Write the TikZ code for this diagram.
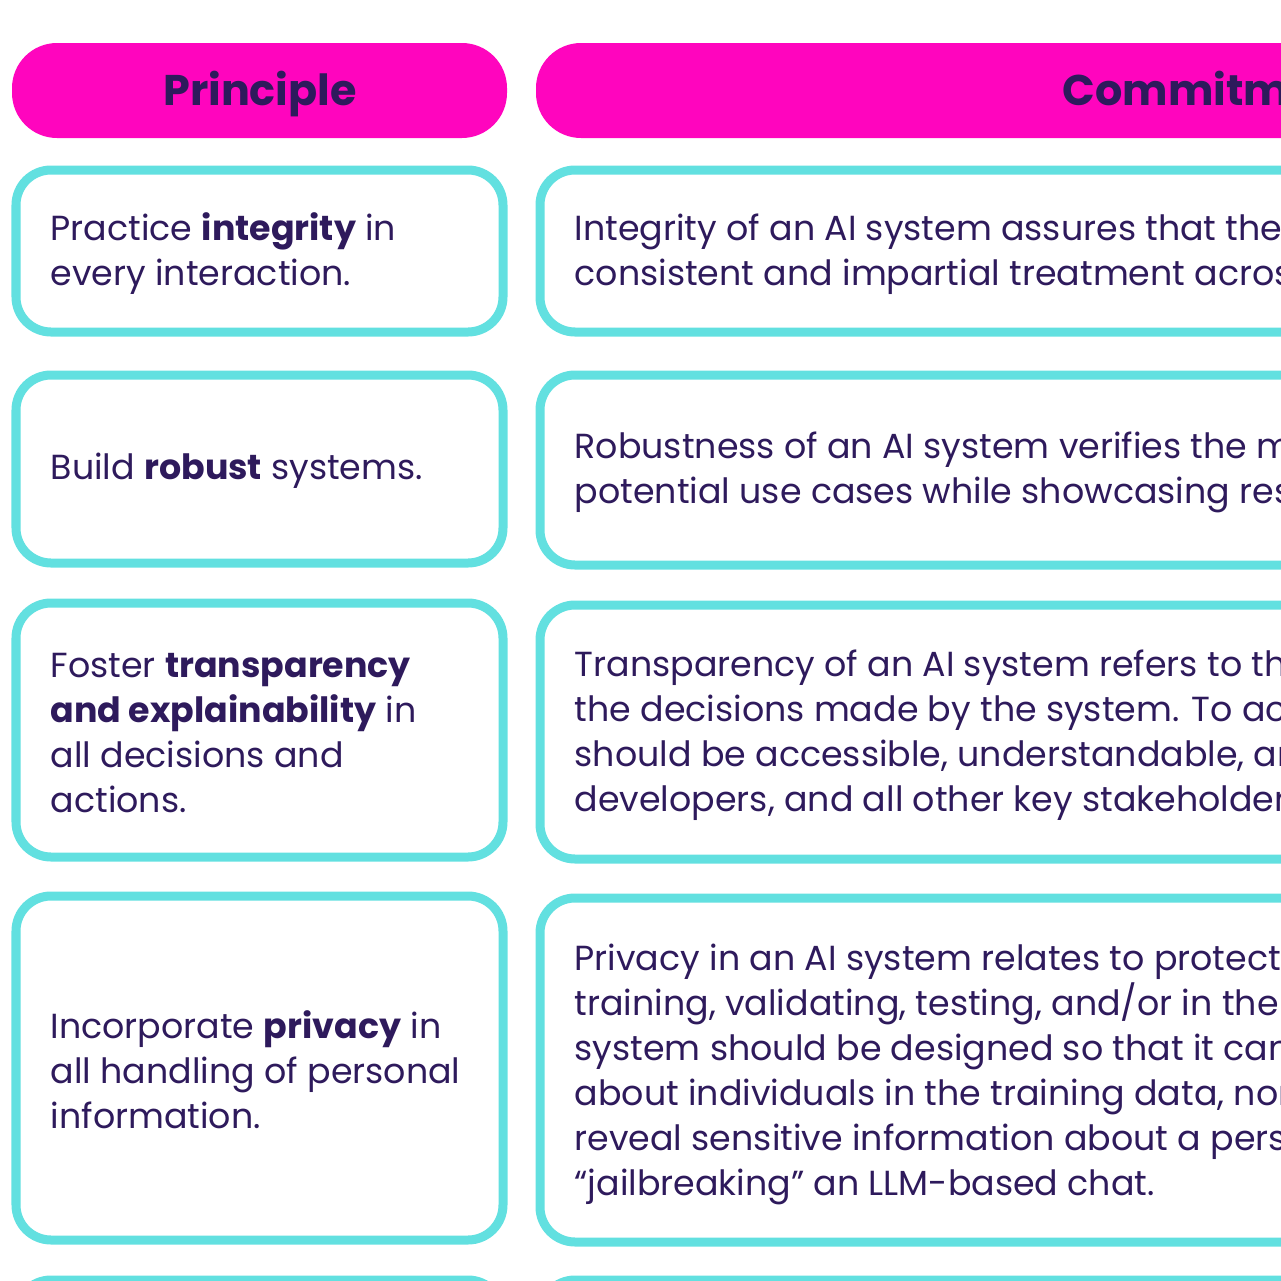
\documentclass[tikz,border=0pt]{standalone}
\usepackage{fontspec}
\setmainfont{Poppins}
\usetikzlibrary{positioning}
\definecolor{headpink}{HTML}{FF05BE}
\definecolor{rimcyan}{HTML}{62E0E0}
\definecolor{inkpurple}{HTML}{2E1A5C}
\tikzset{
  headbox/.style={fill=headpink,rounded corners=0.45cm},
  rowbox/.style={draw=rimcyan,line width=0.09cm,rounded corners=0.35cm,fill=white},
  rowtext/.style={anchor=west,align=left,inner sep=0pt,text=inkpurple,
    font=\fontsize{9.9pt}{12.8pt}\selectfont},
  headtext/.style={anchor=base,inner sep=0pt,text=inkpurple,font=\fontsize{12.2pt}{14pt}\selectfont\bfseries}
}
\begin{document}
\begin{tikzpicture}[x=0.01cm,y=-0.01cm]
\useasboundingbox (0,0) rectangle (1281,1281);
\clip (0,0) rectangle (1281,1281);
% header
\fill[headbox] (12,43) rectangle (507,138);
\fill[headbox] (536,43) rectangle (1500,138);
\node[headtext] (hprin) at (260,105) {Principle};
\node[headtext,anchor=base west] (hcomm) at (1062,105) {Commitment};
% rows
\draw[rowbox] (16,170) rectangle (503,332);
\draw[rowbox] (540,170) rectangle (1500,332);
\draw[rowbox] (16,375) rectangle (503,563);
\draw[rowbox] (540,375) rectangle (1500,565);
\draw[rowbox] (16,603) rectangle (503,857);
\draw[rowbox] (540,605) rectangle (1500,859);
\draw[rowbox] (16,896) rectangle (503,1240);
\draw[rowbox] (540,898) rectangle (1500,1242);
\draw[rowbox] (16,1280) rectangle (503,1500);
\draw[rowbox] (540,1280) rectangle (1500,1500);
% principles
\node[rowtext] (p1) at (50,254) {Practice \textbf{integrity} in\\every interaction.};
\node[rowtext] (p2) at (50,471) {Build \textbf{robust} systems.};
\node[rowtext] (p3) at (50,733) {Foster \textbf{transparency}\\\textbf{and explainability} in\\all decisions and\\actions.};
\node[rowtext] (p4) at (50,1070) {Incorporate \textbf{privacy} in\\all handling of personal\\information.};
% commitments
\node[rowtext] (c1) at (574,254) {Integrity of an AI system assures that the\\consistent and impartial treatment across};
\node[rowtext] (c2) at (574,472) {Robustness of an AI system verifies the m\\potential use cases while showcasing resi};
\node[rowtext] (c3) at (574,735) {Transparency of an AI system refers to th\\the decisions made by the system. To ach\\should be accessible, understandable, and\\developers, and all other key stakeholders};
\node[rowtext] (c4) at (574,1074) {Privacy in an AI system relates to protecti\\training, validating, testing, and/or in the o\\system should be designed so that it cann\\about individuals in the training data, nor\\reveal sensitive information about a perso\\“jailbreaking” an LLM-based chat.};
\end{tikzpicture}
\end{document}
